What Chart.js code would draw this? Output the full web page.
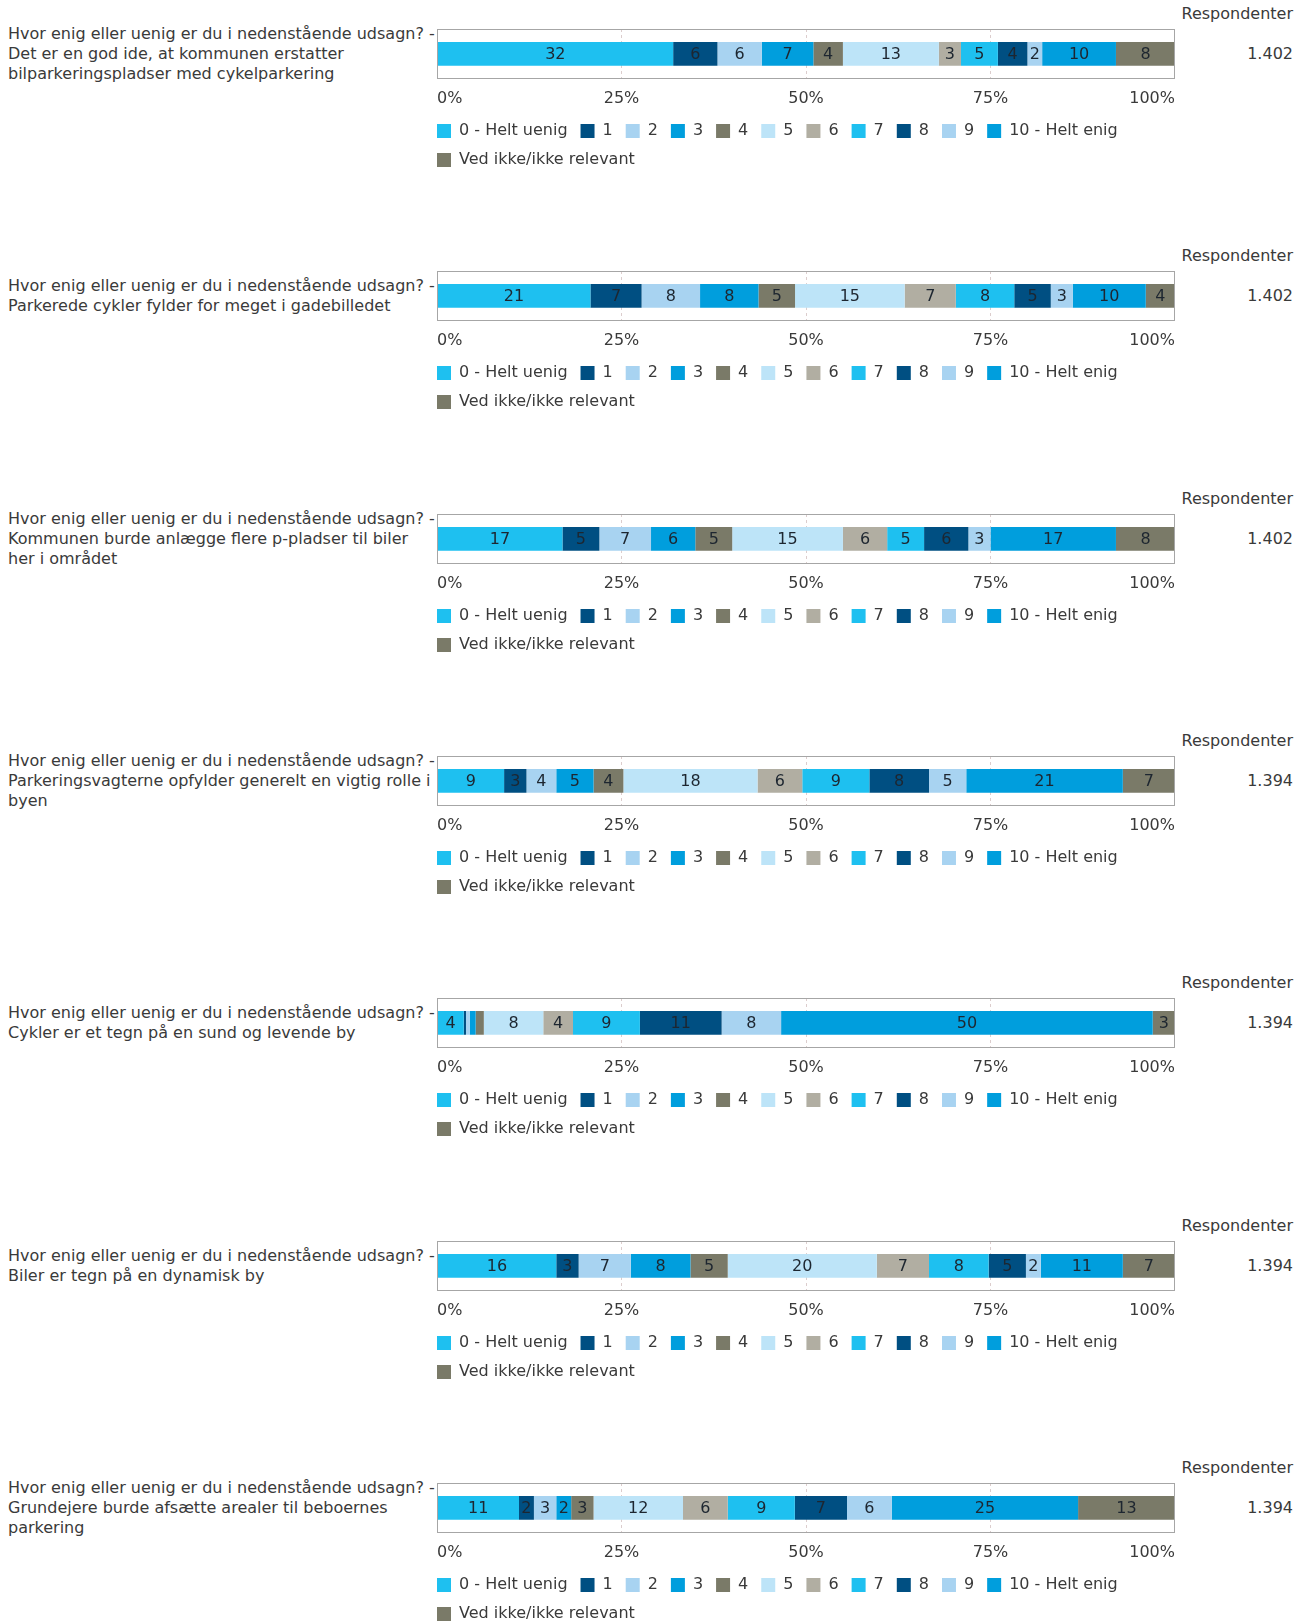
<!DOCTYPE html>
<html lang="da">
<head>
<meta charset="UTF-8">
<title>Hvor enig eller uenig er du?</title>
<script src="https://cdn.jsdelivr.net/npm/chart.js"></script>
<style>
  body { margin: 0; background: #fff; }
  #page { position: relative; width: 1308px; height: 1623px; overflow: hidden;
          font-family: "DejaVu Sans", Verdana, sans-serif; color: #3a3a3a; }
  .q { position: absolute; left: 8px; font-size: 16px; line-height: 20px; white-space: nowrap; }
  .resp { position: absolute; right: 15px; font-size: 16px; line-height: 20px; text-align: right; }
  canvas.bar { position: absolute; left: 0; }
</style>
</head>
<body>
<div id="page"></div>
<script>
// legend / answer categories
const categories = ['0 - Helt uenig', '1', '2', '3', '4', '5', '6', '7', '8', '9', '10 - Helt enig', 'Ved ikke/ikke relevant'];
const colors = ['#1ec0f0', '#004f82', '#a8d3f1', '#009edd', '#7a7a68', '#bde4f8',
                '#b1aea2', '#1ec0f0', '#004f82', '#a8d3f1', '#009edd', '#7a7a68'];

const questionPrefix = 'Hvor enig eller uenig er du i nedenstående udsagn? -';
const statements = [
  ['Det er en god ide, at kommunen erstatter', 'bilparkeringspladser med cykelparkering'],
  ['Parkerede cykler fylder for meget i gadebilledet'],
  ['Kommunen burde anlægge flere p-pladser til biler', 'her i området'],
  ['Parkeringsvagterne opfylder generelt en vigtig rolle i', 'byen'],
  ['Cykler er et tegn på en sund og levende by'],
  ['Biler er tegn på en dynamisk by'],
  ['Grundejere burde afsætte arealer til beboernes', 'parkering']
];

// percentages per answer, in legend order
const q1 = [32, 6, 6, 7, 4, 13, 3, 5, 4, 2, 10, 8];
const q2 = [21, 7, 8, 8, 5, 15, 7, 8, 5, 3, 10, 4];
const q3 = [17, 5, 7, 6, 5, 15, 6, 5, 6, 3, 17, 8];
const q4 = [9, 3, 4, 5, 4, 18, 6, 9, 8, 5, 21, 7];
const q5 = [3.6, 0.3, 0.5, 0.8, 1.1, 8, 4, 9, 11, 8, 50, 3];
const q6 = [16, 3, 7, 8, 5, 20, 7, 8, 5, 2, 11, 7];
const q7 = [11, 2, 3, 2, 3, 12, 6, 9, 7, 6, 25, 13];
const rows = [q1, q2, q3, q4, q5, q6, q7];

const respondents = ['1.402', '1.402', '1.402', '1.394', '1.394', '1.394', '1.394'];
const tickLabels = ['0%', '25%', '50%', '75%', '100%'];

const BLOCK = 242.3;
const page = document.getElementById('page');

// frame round the plot area + value labels in the segments + legend tucked under the axis
const barExtras = {
  id: 'barExtras',
  afterLayout(chart) {
    const lg = chart.legend;
    const pad = chart.options.plugins.legend.labels.padding;
    lg.left -= pad;
    lg.right -= pad;
    lg.top -= 8;
    lg.bottom -= 8;
  },
  afterDatasetsDraw(chart, args, opts) {
    const ctx = chart.ctx;
    const a = chart.chartArea;
    ctx.save();
    ctx.strokeStyle = '#a6a6a6';
    ctx.lineWidth = 1;
    ctx.strokeRect(Math.round(a.left) + 0.5, Math.round(a.top) + 0.5,
                   Math.round(a.right - a.left) - 1, Math.round(a.bottom - a.top) - 1);

    ctx.font = '16px "DejaVu Sans", Verdana, sans-serif';
    ctx.fillStyle = '#1d2630';
    ctx.textAlign = 'center';
    ctx.textBaseline = 'middle';
    chart.data.datasets.forEach((ds, i) => {
      const el = chart.getDatasetMeta(i).data[0];
      const { x, base, y } = el.getProps(['x', 'base', 'y'], true);
      const txt = String(Math.round(opts.values[i]));
      const w = Math.abs(x - base);
      if (w >= ctx.measureText(txt).width + 3) {
        ctx.fillText(txt, (x + base) / 2, y + 1);
      }
    });
    ctx.restore();
  }
};

rows.forEach((row, qi) => {
  const top = Math.round(qi * BLOCK);
  const barMid = top + 54;

  // question text on the left
  const lines = [questionPrefix].concat(statements[qi]);
  const q = document.createElement('div');
  q.className = 'q';
  q.style.top = (barMid - lines.length * 10) + 'px';
  q.innerHTML = lines.join('<br>');
  page.appendChild(q);

  // respondents on the right
  const h = document.createElement('div');
  h.className = 'resp';
  h.style.top = (top + 4) + 'px';
  h.textContent = 'Respondenter';
  page.appendChild(h);
  const v = document.createElement('div');
  v.className = 'resp';
  v.style.top = (barMid - 10) + 'px';
  v.textContent = respondents[qi];
  page.appendChild(v);

  const canvas = document.createElement('canvas');
  canvas.className = 'bar';
  canvas.width = 1308;
  canvas.height = 186;
  canvas.style.top = top + 'px';
  page.appendChild(canvas);

  const total = row.reduce((s, x) => s + x, 0);

  new Chart(canvas, {
    type: 'bar',
    data: {
      labels: [''],
      datasets: categories.map((c, i) => ({
        label: c,
        data: [row[i] / total * 100],
        backgroundColor: colors[i],
        borderWidth: 0,
        categoryPercentage: 1,
        barPercentage: 0.48
      }))
    },
    options: {
      indexAxis: 'y',
      responsive: false,
      animation: false,
      layout: { padding: { top: 29, left: 437, right: 133, bottom: 0 } },
      scales: {
        x: {
          stacked: true,
          min: 0,
          max: 100,
          border: { display: false, dash: [3, 3] },
          grid: {
            drawTicks: false,
            color: c => (c.tick && c.tick.value > 0 && c.tick.value < 100) ? '#dccdcd' : 'rgba(0,0,0,0)'
          },
          ticks: {
            stepSize: 25,
            align: 'inner',
            padding: 10,
            color: '#3a3a3a',
            font: { family: '"DejaVu Sans", Verdana, sans-serif', size: 16 },
            callback: (val, i) => tickLabels[i]
          }
        },
        y: { stacked: true, display: false }
      },
      plugins: {
        legend: {
          position: 'bottom',
          align: 'start',
          labels: {
            boxWidth: 14,
            boxHeight: 14,
            padding: 13,
            color: '#3a3a3a',
            font: { family: '"DejaVu Sans", Verdana, sans-serif', size: 16 }
          }
        },
        tooltip: { enabled: false },
        barExtras: { values: row }
      }
    },
    plugins: [barExtras]
  });
});
</script>
</body>
</html>
